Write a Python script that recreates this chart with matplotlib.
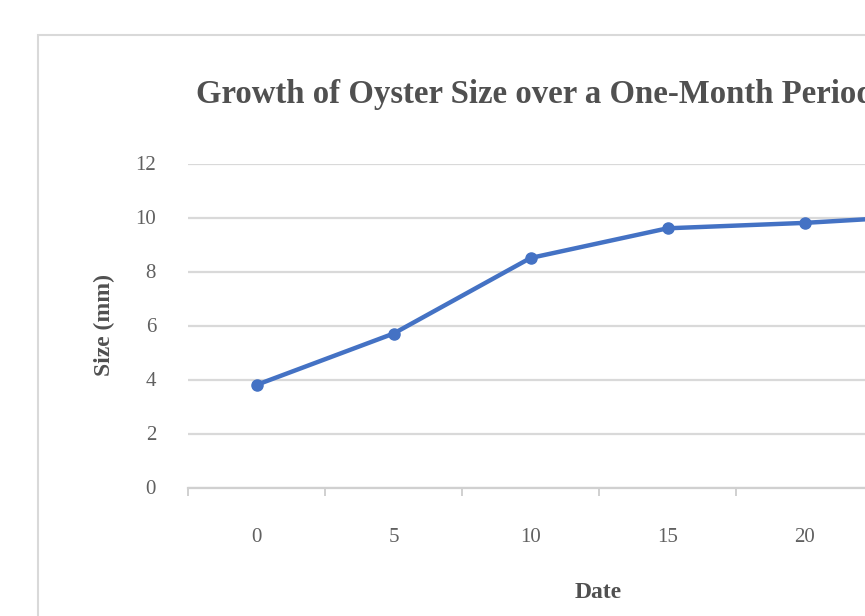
import matplotlib
matplotlib.use("Agg")
import matplotlib.pyplot as plt
from matplotlib.patches import Rectangle
import numpy as np

# Data
dates = [0, 5, 10, 15, 20, 25]
sizes = [3.8, 5.7, 8.5, 9.6, 9.8, 10.1]
y_ticks = [0, 2, 4, 6, 8, 10, 12]

title = "Growth of Oyster Size over a One-Month Period"
x_label = "Date"
y_label = "Size (mm)"

plt.rcParams['font.family'] = ['Liberation Serif', 'DejaVu Serif']

W, H = 865, 616
fig = plt.figure(figsize=(W / 100, H / 100), dpi=100)
fig.patch.set_facecolor('white')

# chart-area frame (extends beyond the visible crop)
fig.patches.append(Rectangle((38 / W, -0.2), 1.2, (616 - 35) / H + 0.2,
                             transform=fig.transFigure, fill=False,
                             edgecolor='#d9d9d9', linewidth=1.5, zorder=0))

left_px, right_px = 188, 188 + 137 * len(dates)
top_px, bot_px = 163.5, 487.5
ax = fig.add_axes([left_px / W, (H - bot_px) / H,
                   (right_px - left_px) / W, (bot_px - top_px) / H])
ax.set_facecolor('none')

idx = np.arange(len(dates))
ax.plot(idx, sizes, color='#4472C4', linewidth=3.2, marker='o',
        markersize=8, solid_capstyle='round', zorder=3, clip_on=False)

ax.set_xlim(-0.5, len(dates) - 0.5)
ax.set_ylim(0, 12)
ax.set_yticks(y_ticks)
ax.yaxis.grid(True, color='#d9d9d9', linewidth=1.6)
ax.set_axisbelow(True)

for s in ['top', 'right', 'left']:
    ax.spines[s].set_visible(False)
ax.spines['bottom'].set_color('#d0d0d0')
ax.spines['bottom'].set_linewidth(1.6)

# category labels at centers, tick marks between categories
ax.set_xticks(idx - 0.5)
ax.set_xticklabels([])
ax.set_xticks(idx, minor=True)
ax.set_xticklabels([str(d) for d in dates], minor=True)
ax.tick_params(axis='x', which='major', length=6, width=1.4,
               color='#d0d0d0', direction='out')
ax.tick_params(axis='x', which='minor', length=0, pad=29,
               labelsize=15, labelcolor='#606060')
ax.tick_params(axis='y', length=0, pad=23, labelsize=15,
               labelcolor='#606060')

ax.set_xlabel(x_label, fontsize=17, fontweight='bold', color='#505050')
ax.xaxis.set_label_coords((598 - left_px) / (right_px - left_px),
                          -(593 - bot_px) / (bot_px - top_px))
ax.xaxis.label.set_verticalalignment('center')

ax.set_ylabel(y_label, fontsize=17, fontweight='bold', color='#505050')
ax.yaxis.set_label_coords(-(left_px - 104) / (right_px - left_px), 0.5)
ax.yaxis.label.set_verticalalignment('center')

fig.text(196 / W, (H - 103) / H, title, ha='left', va='baseline',
         fontsize=23.6, fontweight='bold', color='#505050')

fig.savefig('out.png', dpi=100)
